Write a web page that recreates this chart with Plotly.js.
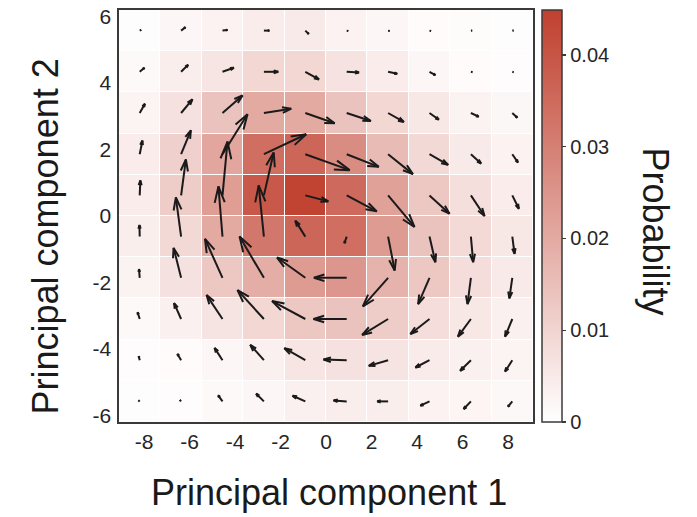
<!DOCTYPE html>
<html>
<head>
<meta charset="utf-8">
<script src="https://cdn.plot.ly/plotly-3.0.1.min.js"></script>
<style>html,body{margin:0;padding:0;background:#fff;}#chart{width:697px;height:517px;}</style>
</head>
<body>
<div id="chart"></div>
<script>
// Bin centres (data units)
const xCenters = [-8.19, -6.37, -4.55, -2.73, -0.91, 0.91, 2.73, 4.55, 6.37, 8.19];
const yCentersTopDown = [5.58, 4.34, 3.10, 1.86, 0.62, -0.62, -1.86, -3.10, -4.34, -5.58];

// Probability per bin, rows listed from top (y=5.58) to bottom (y=-5.58)
const probRows = [
  [0.0004, 0.002, 0.003, 0.0045, 0.005, 0.003, 0.002, 0.001, 0.0008, 0.0005],
  [0.0015, 0.004, 0.006, 0.0095, 0.0095, 0.0065, 0.0045, 0.002, 0.001, 0.0007],
  [0.0025, 0.007, 0.014, 0.020, 0.020, 0.014, 0.0095, 0.0055, 0.0028, 0.0018],
  [0.0045, 0.011, 0.021, 0.034, 0.036, 0.027, 0.016, 0.009, 0.005, 0.003],
  [0.0045, 0.012, 0.023, 0.039, 0.044, 0.035, 0.022, 0.013, 0.0075, 0.0045],
  [0.004, 0.009, 0.020, 0.032, 0.036, 0.034, 0.0235, 0.014, 0.0087, 0.0054],
  [0.0028, 0.007, 0.013, 0.019, 0.0235, 0.0247, 0.018, 0.013, 0.008, 0.005],
  [0.0014, 0.0035, 0.0063, 0.0094, 0.013, 0.014, 0.012, 0.008, 0.0054, 0.0035],
  [0.0007, 0.001, 0.002, 0.0035, 0.006, 0.007, 0.0063, 0.0047, 0.0035, 0.0026],
  [0.0004, 0.0006, 0.0014, 0.002, 0.0035, 0.004, 0.004, 0.003, 0.0024, 0.0016]
];

// Flux vectors (data units), rows top to bottom
const uRows = [
  [0.06, 0.19, 0.22, 0.24, 0.15, 0.06, 0.06, 0.06, 0.05, 0.05],
  [0.21, 0.31, 0.50, 0.63, 0.60, 0.54, 0.40, 0.26, 0.06, 0.05],
  [0.23, 0.50, 0.88, 1.20, 1.29, 1.06, 0.69, 0.41, 0.34, 0.22],
  [0.12, 0.43, 1.10, 1.86, 1.95, 1.41, 1.09, 0.82, 0.45, 0.25],
  [0.03, 0.21, 0.22, 0.43, 1.01, 1.32, 1.16, 0.88, 0.60, 0.29],
  [-0.01, -0.23, -0.18, -0.23, -0.44, -0.10, 0.29, 0.26, 0.10, 0.10],
  [-0.03, -0.33, -0.77, -1.07, -1.24, -1.44, -1.11, -0.50, -0.15, -0.13],
  [-0.09, -0.31, -0.70, -1.16, -1.46, -1.46, -1.14, -0.84, -0.57, -0.32],
  [-0.04, -0.16, -0.35, -0.60, -0.92, -1.02, -0.85, -0.62, -0.47, -0.32],
  [-0.05, -0.05, -0.19, -0.34, -0.56, -0.58, -0.48, -0.40, -0.32, -0.19]
];
const vRows = [
  [0.02, 0.10, 0.02, 0.00, -0.10, -0.01, -0.01, -0.01, 0.00, 0.00],
  [0.12, 0.21, 0.12, 0.00, -0.23, -0.02, -0.06, -0.10, -0.01, -0.01],
  [0.28, 0.41, 0.53, 0.13, -0.31, -0.24, -0.27, -0.20, -0.11, -0.14],
  [0.41, 0.72, 1.20, 0.60, -0.48, -0.38, -0.60, -0.32, -0.28, -0.25],
  [0.45, 1.08, 1.62, 1.29, -0.18, -0.48, -0.95, -0.55, -0.62, -0.40],
  [0.35, 1.18, 1.51, 1.54, 0.48, -0.20, -1.02, -0.77, -0.77, -0.52],
  [0.26, 0.90, 1.17, 1.24, 0.61, 0.00, -0.86, -0.79, -0.79, -0.62],
  [0.20, 0.48, 0.72, 0.87, 0.54, 0.00, -0.48, -0.45, -0.53, -0.53],
  [0.12, 0.19, 0.37, 0.46, 0.36, 0.02, -0.17, -0.22, -0.32, -0.34],
  [0.03, 0.04, 0.18, 0.23, 0.17, 0.03, 0.00, -0.13, -0.23, -0.16]
];

const xTicks = [-8, -6, -4, -2, 0, 2, 4, 6, 8];
const xTickText = ['-8', '-6', '-4', '-2', '0', '2', '4', '6', '8'];
const yTicks = [-6, -4, -2, 0, 2, 4, 6];
const yTickText = ['-6', '-4', '-2', '0', '2', '4', '6'];
const cbTicks = [0, 0.01, 0.02, 0.03, 0.04];
const cbTickText = ['0', '0.01', '0.02', '0.03', '0.04'];
const xTitle = 'Principal component 1';
const yTitle = 'Principal component 2';
const cbTitle = 'Probability';

// ---- layout geometry ----
const W = 697, H = 517;
const M = {l: 119, r: 164, t: 10, b: 95};
const PW = W - M.l - M.r, PH = H - M.t - M.b;
const xRange = [-9.1, 9.1];
const yRange = [-6.2, 6.2];
const kx = PW / (xRange[1] - xRange[0]);
const ky = PH / (yRange[1] - yRange[0]);
const pxX = p => (p - M.l) / PW;          // pixel -> paper x
const pxY = p => (H - M.b - p) / PH;      // pixel -> paper y

// heatmap wants rows bottom-up
const yCenters = yCentersTopDown.slice().reverse();
const z = probRows.slice().reverse();

const fontFam = 'Liberation Sans, Arial, Helvetica, sans-serif';

const heat = {
  type: 'heatmap',
  x: xCenters, y: yCenters, z: z,
  zmin: 0, zmax: 0.0449,
  colorscale: [[0, 'rgb(255,255,255)'], [1, 'rgb(192,64,47)']],
  xgap: 1, ygap: 1,
  hoverinfo: 'skip',
  colorbar: {
    thickness: 20, thicknessmode: 'pixels',
    len: 1, lenmode: 'fraction', y: 0.5, yanchor: 'middle',
    x: pxX(542), xanchor: 'left', xpad: 0, ypad: 0,
    outlinewidth: 1.5, outlinecolor: '#3a3a3a',
    tickmode: 'array', tickvals: cbTicks, ticktext: cbTickText,
    ticks: 'outside', ticklen: 4, tickwidth: 1.2, tickcolor: '#3a3a3a',
    tickfont: {family: fontFam, size: 20, color: '#262626'}
  }
};

// quiver arrows (MATLAB-like open heads)
const qx = [], qy = [];
for (let r = 0; r < 10; r++) {
  for (let c = 0; c < 10; c++) {
    const x0 = xCenters[c], y0 = yCentersTopDown[r];
    const u = uRows[r][c], v = vRows[r][c];
    const tx = x0 + u, ty = y0 + v;
    qx.push(x0, tx, null);
    qy.push(y0, ty, null);
    const px = u * kx, py = v * ky;
    const L = Math.hypot(px, py);
    if (L > 0) {
      const ex = px / L, ey = py / L;
      const h = 0.32 * L, w = 0.1 * L;
      const w1x = tx + (-h * ex - w * ey) / kx, w1y = ty + (-h * ey + w * ex) / ky;
      const w2x = tx + (-h * ex + w * ey) / kx, w2y = ty + (-h * ey - w * ex) / ky;
      qx.push(w1x, tx, w2x, null);
      qy.push(w1y, ty, w2y, null);
    }
  }
}
const arrows = {
  type: 'scatter', mode: 'lines', x: qx, y: qy,
  line: {color: '#1a1a1a', width: 2},
  hoverinfo: 'skip', showlegend: false
};

const layout = {
  width: W, height: H,
  margin: M,
  paper_bgcolor: '#ffffff', plot_bgcolor: '#ffffff',
  showlegend: false,
  font: {family: fontFam, color: '#262626'},
  xaxis: {
    range: xRange, autorange: false,
    tickmode: 'array', tickvals: xTicks, ticktext: xTickText,
    ticks: '', showgrid: false, zeroline: false,
    showline: true, mirror: true, linecolor: '#3a3a3a', linewidth: 1.6,
    tickfont: {size: 21, color: '#262626'},
    ticklabelstandoff: 0
  },
  yaxis: {
    range: yRange, autorange: false,
    tickmode: 'array', tickvals: yTicks, ticktext: yTickText,
    ticks: '', showgrid: false, zeroline: false,
    showline: true, mirror: true, linecolor: '#3a3a3a', linewidth: 1.6,
    tickfont: {size: 21, color: '#262626'},
    ticklabelstandoff: 2
  },
  annotations: [
    {text: xTitle, xref: 'paper', yref: 'paper', x: pxX(328.5), y: pxY(492.5),
     xanchor: 'center', yanchor: 'middle', showarrow: false,
     font: {family: fontFam, size: 36, color: '#1a1a1a'}},
    {text: yTitle, textangle: -90, xref: 'paper', yref: 'paper', x: pxX(45), y: pxY(236.5),
     xanchor: 'center', yanchor: 'middle', showarrow: false,
     font: {family: fontFam, size: 36, color: '#1a1a1a'}},
    {text: cbTitle, textangle: 90, xref: 'paper', yref: 'paper', x: pxX(655), y: pxY(231.5),
     xanchor: 'center', yanchor: 'middle', showarrow: false,
     font: {family: fontFam, size: 36, color: '#1a1a1a'}}
  ]
};

Plotly.newPlot('chart', [heat, arrows], layout, {staticPlot: true, displayModeBar: false});
</script>
</body>
</html>
